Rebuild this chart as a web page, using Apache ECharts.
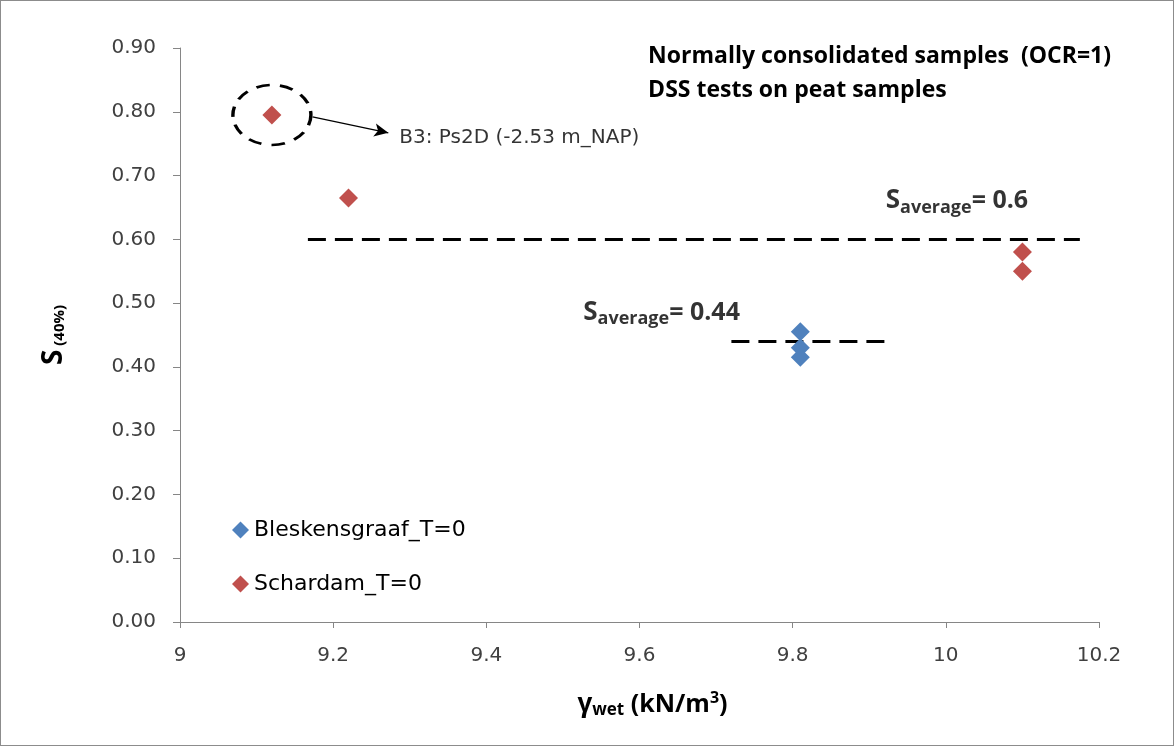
<!DOCTYPE html>
<html>
<head>
<meta charset="utf-8">
<script src="https://cdn.jsdelivr.net/npm/echarts@6/dist/echarts.min.js"></script>
<style>
html,body{margin:0;padding:0;background:#fff;}
#c{width:1174px;height:746px;box-sizing:border-box;border:1px solid #8c8c8c;}
</style>
</head>
<body>
<div id="c"></div>
<script>
// ---- data ----
const bleskensgraaf = [[9.81, 0.455], [9.81, 0.43], [9.81, 0.415]];
const schardam = [[9.12, 0.795], [9.22, 0.665], [10.10, 0.58], [10.10, 0.55]];
const avgSchardam = {value: 0.6, x0: 9.167, x1: 10.175, labelAt: [9.915, 0.66]};
const avgBlesk = {value: 0.44, x0: 9.72, x1: 9.92, labelAt: [9.52, 0.485]};
const highlightPoint = [9.12, 0.795];
const arrowFrom = [9.173, 0.792];
const arrowTo = [9.272, 0.767];
const annotationText = 'B3: Ps2D (-2.53 m_NAP)';
const xTicks = {min: 9, max: 10.2, interval: 0.2};
const yTicks = {min: 0, max: 0.9, interval: 0.1};

const REG = '"DejaVu Sans", sans-serif';
const BOLD = '"Open Sans", sans-serif';
const subRich = {
  S: {fontSize: 26, fontWeight: 'bold', color: '#000', fontFamily: BOLD},
  s: {fontSize: 18, fontWeight: 'bold', color: '#000', padding: [13, 0, 0, 0], fontFamily: BOLD},
  v: {fontSize: 25, fontWeight: 'bold', color: '#000', fontFamily: BOLD}
};
const chart = echarts.init(document.getElementById('c'));
chart.setOption({
  animation: false,
  textStyle: {fontFamily: REG},
  grid: {left: 179, right: 74, top: 47, bottom: 123},
  xAxis: {
    type: 'value', min: xTicks.min, max: xTicks.max, interval: xTicks.interval,
    splitLine: {show: false},
    axisLine: {lineStyle: {color: '#868686'}},
    axisTick: {show: true, length: 6, lineStyle: {color: '#868686'}},
    axisLabel: {color: '#404040', fontSize: 20, margin: 24, fontFamily: REG},
    name: '{g|γ}{s|wet}{b| (kN/m}{sup|3}{b|)}',
    nameLocation: 'middle', nameGap: 68,
    nameTextStyle: {
      padding: [0, 0, 0, 26],
      rich: {
        g: {fontSize: 26, fontWeight: 'bold', color: '#000', fontFamily: BOLD},
        s: {fontSize: 17, fontWeight: 'bold', color: '#000', padding: [12, 0, 0, 0], fontFamily: BOLD},
        b: {fontSize: 25, fontWeight: 'bold', color: '#000', fontFamily: BOLD},
        sup: {fontSize: 16, fontWeight: 'bold', color: '#000', padding: [0, 0, 12, 0], fontFamily: BOLD}
      }
    }
  },
  yAxis: {
    type: 'value', min: yTicks.min, max: yTicks.max, interval: yTicks.interval,
    splitLine: {show: false},
    axisLine: {show: true, lineStyle: {color: '#868686'}},
    axisTick: {show: true, length: 7, lineStyle: {color: '#868686'}},
    axisLabel: {color: '#404040', fontSize: 20, margin: 24, fontFamily: REG,
      formatter: v => v.toFixed(2)},
    name: '{S|S}{s| (40%)}',
    nameLocation: 'middle', nameGap: 112, nameRotate: 90,
    nameTextStyle: {
      rich: {
        S: {fontSize: 28, fontWeight: 'bold', color: '#000', fontFamily: BOLD},
        s: {fontSize: 15, fontWeight: 'bold', color: '#000', padding: [12, 0, 0, 0], fontFamily: BOLD}
      }
    }
  },
  legend: {
    data: ['Bleskensgraaf_T=0', 'Schardam_T=0'],
    orient: 'vertical', left: 226, top: 513, itemGap: 32,
    itemWidth: 17, itemHeight: 17,
    textStyle: {fontSize: 22, color: '#000', fontFamily: REG}
  },
  graphic: [{
    type: 'text', right: 62, top: 38,
    style: {
      text: 'Normally consolidated samples  (OCR=1)\nDSS tests on peat samples',
      font: 'bold 23px ' + BOLD, fill: '#000', lineHeight: 34
    }
  }],
  series: [
    {
      name: 'Bleskensgraaf_T=0', type: 'scatter', symbol: 'diamond', symbolSize: 19,
      itemStyle: {color: '#4f81bd', opacity: 1}, data: bleskensgraaf, z: 5,
      markLine: {
        silent: true, symbol: 'none',
        lineStyle: {color: '#000', width: 3, type: [18, 9], opacity: 1},
        label: {show: false},
        data: [[{coord: [avgBlesk.x0, avgBlesk.value]}, {coord: [avgBlesk.x1, avgBlesk.value]}]]
      }
    },
    {
      name: 'Schardam_T=0', type: 'scatter', symbol: 'diamond', symbolSize: 19,
      itemStyle: {color: '#c0504d', opacity: 1}, data: schardam, z: 5,
      markLine: {
        silent: true, symbol: 'none',
        lineStyle: {color: '#000', width: 3, type: [18, 9], opacity: 1},
        label: {show: false},
        data: [[{coord: [avgSchardam.x0, avgSchardam.value]}, {coord: [avgSchardam.x1, avgSchardam.value]}]]
      }
    },
    {
      name: 'ellipse', type: 'scatter', symbol: 'circle', symbolSize: [78, 60],
      itemStyle: {color: 'rgba(0,0,0,0)', borderColor: '#000', borderWidth: 3, borderType: [12, 9], opacity: 1},
      data: [highlightPoint], silent: true, z: 3,
      markLine: {
        silent: true, symbol: ['none', 'arrow'], symbolSize: [10, 14],
        lineStyle: {color: '#000', width: 1.3, type: 'solid', opacity: 1},
        label: {show: false},
        data: [[{coord: arrowFrom}, {coord: arrowTo}]]
      }
    },
    {
      name: 'labels', type: 'scatter', symbolSize: 0, silent: true,
      data: [
        {value: arrowTo, label: {show: true, position: 'right', offset: [6, 5],
          formatter: annotationText, fontSize: 20, color: '#000', fontFamily: REG}},
        {value: avgSchardam.labelAt, label: {show: true, position: 'right',
          formatter: '{S|S}{s|average}{v|= 0.6}', rich: subRich}},
        {value: avgBlesk.labelAt, label: {show: true, position: 'right',
          formatter: '{S|S}{s|average}{v|= 0.44}', rich: subRich}}
      ]
    }
  ]
});
</script>
</body>
</html>
